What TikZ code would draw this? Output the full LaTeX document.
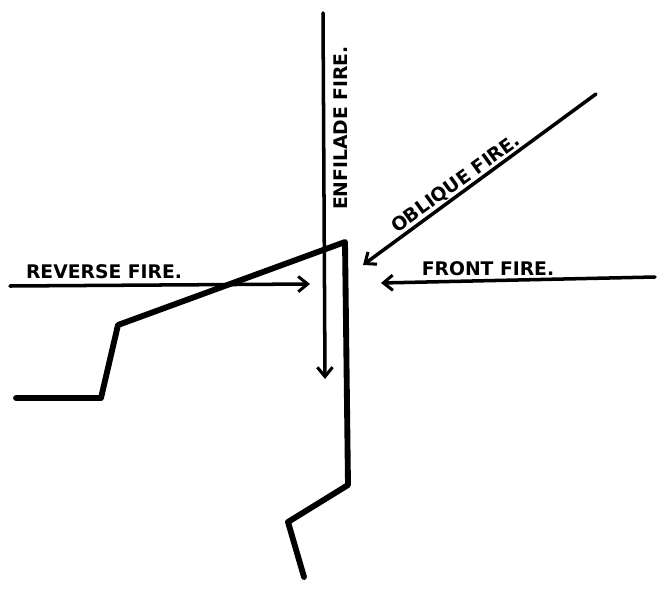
\documentclass[tikz,border=0pt]{standalone}
\usepackage{fontspec}
\setmainfont{DejaVu Sans}
\usetikzlibrary{arrows.meta}
\usetikzlibrary{positioning}

\tikzset{
  trench/.style={line width=5pt, line cap=round, line join=round},
  fire/.style={line width=3pt, line cap=round, -{Straight Barb[length=8pt,width=13pt,line width=2.6pt]}},
  firelabel/.style={font=\bfseries\fontsize{16}{18}\selectfont, inner sep=0pt}
}

\begin{document}
\begin{tikzpicture}[x=0.03cm, y=-0.03cm]
  \useasboundingbox (0,0) rectangle (668,589);

  % Trench outline
  \coordinate (t1) at (16,398);
  \coordinate (t2) at (101,398);
  \coordinate (t3) at (118,325);
  \coordinate (t4) at (345,242);
  \coordinate (t5) at (348,485);
  \coordinate (t6) at (288,522);
  \coordinate (t7) at (304,577);
  \draw[trench] (t1) -- (t2) -- (t3) -- (t4) -- (t5) -- (t6) -- (t7);

  % Lines of fire
  \coordinate (enfstart) at (323,13);
  \coordinate (enfend) at (325,379);
  \coordinate (oblstart) at (596,94);
  \coordinate (oblend) at (363,265);
  \coordinate (revstart) at (10,286);
  \coordinate (revend) at (310,284);
  \coordinate (frontstart) at (655,277);
  \coordinate (frontend) at (381,283);

  \draw[fire] (enfstart) -- (enfend);
  \draw[fire] (oblstart) -- (oblend);
  \draw[fire] (revstart) -- (revend);
  \draw[fire] (frontstart) -- (frontend);

  % Labels
  \node[firelabel, rotate=90] (enflabel) at (341,128) {ENFILADE FIRE.};
  \node[firelabel, rotate=36] (obllabel) at (456,184) {OBLIQUE FIRE.};
  \node[firelabel] (revlabel) at (104,272) {REVERSE FIRE.};
  \node[firelabel] (frontlabel) at (488,269) {FRONT FIRE.};
\end{tikzpicture}
\end{document}
